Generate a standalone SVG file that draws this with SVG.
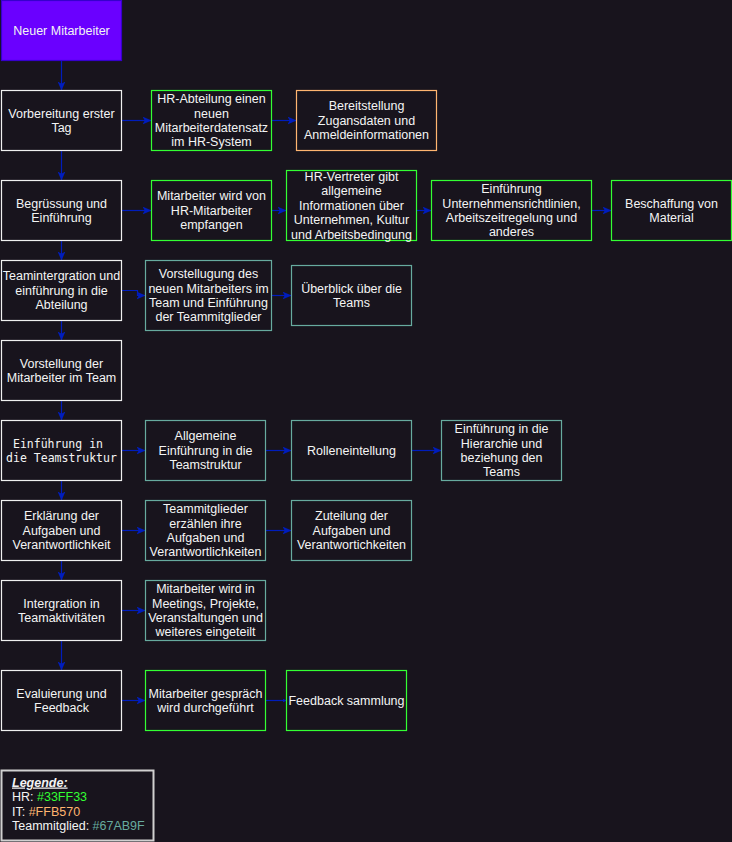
<svg xmlns="http://www.w3.org/2000/svg" width="732" height="842" viewBox="0 0 732 842">
<style>
.bg{fill:#18141D}
rect.n{fill:#18141D;stroke:#F0F0F0;stroke-width:1.2}
rect.hr{stroke:#33FF33}
rect.it{stroke:#FFB570}
rect.tm{stroke:#67AB9F}
text{font-family:"Liberation Sans",Arial,sans-serif;font-size:12.5px;fill:#F4F4F4;text-anchor:middle}
text.mono{font-family:"DejaVu Sans Mono","Liberation Mono",monospace;font-size:11.5px}
.e{fill:none;stroke:#001DBC;stroke-width:1.2}
</style>
<defs>
<marker id="ah" viewBox="0 0 8 7" refX="8" refY="3.5" markerWidth="9" markerHeight="8" markerUnits="userSpaceOnUse" orient="auto">
<path d="M0,0 L8,3.5 L0,7 L2,3.5 Z" fill="#001DBC"/>
</marker>
<marker id="ahs" viewBox="0 0 4 4" refX="4" refY="2" markerWidth="4" markerHeight="4" markerUnits="userSpaceOnUse" orient="auto">
<path d="M0,0 L4,2 L0,4 Z" fill="#001DBC"/>
</marker>
</defs>
<rect class="bg" x="0" y="0" width="732" height="842"/>

<g id="connectors">
<path class="e" marker-end="url(#ah)" d="M61.5,60.5 V90.5"/>
<path class="e" marker-end="url(#ah)" d="M61.5,150.5 V180.5"/>
<path class="e" marker-end="url(#ah)" d="M61.5,240.5 V260.5"/>
<path class="e" marker-end="url(#ah)" d="M61.5,320.5 V340.5"/>
<path class="e" marker-end="url(#ah)" d="M61.5,400.5 V420.5"/>
<path class="e" marker-end="url(#ah)" d="M61.5,480.5 V500.5"/>
<path class="e" marker-end="url(#ah)" d="M61.5,560.5 V580.5"/>
<path class="e" marker-end="url(#ah)" d="M61.5,640.5 V670.5"/>
<path class="e" marker-end="url(#ah)" d="M121.5,120.5 H151.5"/>
<path class="e" marker-end="url(#ah)" d="M271.5,120.5 H296.5"/>
<path class="e" marker-end="url(#ah)" d="M121.5,210.5 H151.5"/>
<path class="e" marker-end="url(#ah)" d="M271.5,210.5 H286.5"/>
<path class="e" marker-end="url(#ah)" d="M416.5,210.5 H431.5"/>
<path class="e" marker-end="url(#ah)" d="M591.5,210.5 H611.5"/>
<path class="e" marker-end="url(#ah)" d="M121.5,290.5 H137.5 V295.5 H145.5"/>
<path class="e" marker-end="url(#ah)" d="M271.5,295.5 H291.5"/>
<path class="e" marker-end="url(#ah)" d="M121.5,450.5 H145.5"/>
<path class="e" marker-end="url(#ah)" d="M265.5,450.5 H291.5"/>
<path class="e" marker-end="url(#ah)" d="M411.5,450.5 H441.5"/>
<path class="e" marker-end="url(#ah)" d="M121.5,530.5 H145.5"/>
<path class="e" marker-end="url(#ah)" d="M265.5,530.5 H291.5"/>
<path class="e" marker-end="url(#ah)" d="M121.5,610.5 H145.5"/>
<path class="e" marker-end="url(#ah)" d="M121.5,700.5 H145.5"/>
<path class="e" marker-end="url(#ahs)" d="M265.5,700.5 H286.5"/>
</g>

<g id="n1"><rect x="1.5" y="0.5" width="120" height="60" fill="#6A00FF" stroke="#3700CC" stroke-width="1.2"/>
<text x="61.5" y="34.8">Neuer Mitarbeiter</text></g>

<g id="n2"><rect class="n" x="1.5" y="90.5" width="120" height="60"/>
<text x="61.5"><tspan x="61.5" y="117.6">Vorbereitung erster</tspan><tspan x="61.5" y="132">Tag</tspan></text></g>

<g id="n3"><rect class="n hr" x="151.5" y="90.5" width="120" height="60"/>
<text><tspan x="211.5" y="103.2">HR-Abteilung einen</tspan><tspan x="211.5" y="117.6">neuen</tspan><tspan x="211.5" y="132">Mitarbeiterdatensatz</tspan><tspan x="211.5" y="146.4">im HR-System</tspan></text></g>

<g id="n4"><rect class="n it" x="296.5" y="90.5" width="140" height="60"/>
<text><tspan x="366.5" y="110.4">Bereitstellung</tspan><tspan x="366.5" y="124.8">Zugansdaten und</tspan><tspan x="366.5" y="139.2">Anmeldeinformationen</tspan></text></g>

<g id="n5"><rect class="n" x="1.5" y="180.5" width="120" height="60"/>
<text><tspan x="61.5" y="207.6">Begrüssung und</tspan><tspan x="61.5" y="222">Einführung</tspan></text></g>

<g id="n6"><rect class="n hr" x="151.5" y="180.5" width="120" height="60"/>
<text><tspan x="211.5" y="200.4">Mitarbeiter wird von</tspan><tspan x="211.5" y="214.8">HR-Mitarbeiter</tspan><tspan x="211.5" y="229.2">empfangen</tspan></text></g>

<g id="n7"><rect class="n hr" x="286.5" y="170.5" width="130" height="70"/>
<text><tspan x="351.5" y="181">HR-Vertreter gibt</tspan><tspan x="351.5" y="195.4">allgemeine</tspan><tspan x="351.5" y="209.8">Informationen über</tspan><tspan x="351.5" y="224.2">Unternehmen, Kultur</tspan><tspan x="351.5" y="238.6">und Arbeitsbedingung</tspan></text></g>

<g id="n8"><rect class="n hr" x="431.5" y="180.5" width="160" height="60"/>
<text><tspan x="511.5" y="193.2">Einführung</tspan><tspan x="511.5" y="207.6">Unternehmensrichtlinien,</tspan><tspan x="511.5" y="222">Arbeitszeitregelung und</tspan><tspan x="511.5" y="236.4">anderes</tspan></text></g>

<g id="n9"><rect class="n hr" x="611.5" y="180.5" width="120" height="60"/>
<text><tspan x="671.5" y="207.6">Beschaffung von</tspan><tspan x="671.5" y="222">Material</tspan></text></g>

<g id="n10"><rect class="n" x="1.5" y="260.5" width="120" height="60"/>
<text><tspan x="61.5" y="280.4">Teamintergration und</tspan><tspan x="61.5" y="294.8">einführung in die</tspan><tspan x="61.5" y="309.2">Abteilung</tspan></text></g>

<g id="n11"><rect class="n tm" x="145.5" y="260.5" width="126" height="70"/>
<text><tspan x="208.5" y="278.2">Vorstellugung des</tspan><tspan x="208.5" y="292.6">neuen Mitarbeiters im</tspan><tspan x="208.5" y="307">Team und Einführung</tspan><tspan x="208.5" y="321.4">der Teammitglieder</tspan></text></g>

<g id="n12"><rect class="n tm" x="291.5" y="265.5" width="120" height="60"/>
<text><tspan x="351.5" y="292.6">Überblick über die</tspan><tspan x="351.5" y="307">Teams</tspan></text></g>

<g id="n13"><rect class="n" x="1.5" y="340.5" width="120" height="60"/>
<text><tspan x="61.5" y="367.6">Vorstellung der</tspan><tspan x="61.5" y="382">Mitarbeiter im Team</tspan></text></g>

<g id="n14"><rect class="n" x="1.5" y="420.5" width="120" height="60"/>
<text class="mono"><tspan x="58" y="447.6">Einführung in</tspan><tspan x="61.5" y="462">die Teamstruktur</tspan></text></g>

<g id="n15"><rect class="n tm" x="145.5" y="420.5" width="120" height="60"/>
<text><tspan x="205.5" y="440.4">Allgemeine</tspan><tspan x="205.5" y="454.8">Einführung in die</tspan><tspan x="205.5" y="469.2">Teamstruktur</tspan></text></g>

<g id="n16"><rect class="n tm" x="291.5" y="420.5" width="120" height="60"/>
<text x="351.5" y="454.8">Rolleneintellung</text></g>

<g id="n17"><rect class="n tm" x="441.5" y="420.5" width="120" height="60"/>
<text><tspan x="501.5" y="433.2">Einführung in die</tspan><tspan x="501.5" y="447.6">Hierarchie und</tspan><tspan x="501.5" y="462">beziehung den</tspan><tspan x="501.5" y="476.4">Teams</tspan></text></g>

<g id="n18"><rect class="n" x="1.5" y="500.5" width="120" height="60"/>
<text><tspan x="61.5" y="520.4">Erklärung der</tspan><tspan x="61.5" y="534.8">Aufgaben und</tspan><tspan x="61.5" y="549.2">Verantwortlichkeit</tspan></text></g>

<g id="n19"><rect class="n tm" x="145.5" y="500.5" width="120" height="60"/>
<text><tspan x="205.5" y="513.2">Teammitglieder</tspan><tspan x="205.5" y="527.6">erzählen ihre</tspan><tspan x="205.5" y="542">Aufgaben und</tspan><tspan x="205.5" y="556.4">Verantwortlichkeiten</tspan></text></g>

<g id="n20"><rect class="n tm" x="291.5" y="500.5" width="120" height="60"/>
<text><tspan x="351.5" y="520.4">Zuteilung der</tspan><tspan x="351.5" y="534.8">Aufgaben und</tspan><tspan x="351.5" y="549.2">Verantwortichkeiten</tspan></text></g>

<g id="n21"><rect class="n" x="1.5" y="580.5" width="120" height="60"/>
<text><tspan x="61.5" y="607.6">Intergration in</tspan><tspan x="61.5" y="622">Teamaktivitäten</tspan></text></g>

<g id="n22"><rect class="n tm" x="145.5" y="580.5" width="120" height="60"/>
<text><tspan x="205.5" y="593.2">Mitarbeiter wird in</tspan><tspan x="205.5" y="607.6">Meetings, Projekte,</tspan><tspan x="205.5" y="622">Veranstaltungen und</tspan><tspan x="205.5" y="636.4">weiteres eingeteilt</tspan></text></g>

<g id="n23"><rect class="n" x="1.5" y="670.5" width="120" height="60"/>
<text><tspan x="61.5" y="697.6">Evaluierung und</tspan><tspan x="61.5" y="712">Feedback</tspan></text></g>

<g id="n24"><rect class="n hr" x="145.5" y="670.5" width="120" height="60"/>
<text><tspan x="205.5" y="697.6">Mitarbeiter gespräch</tspan><tspan x="205.5" y="712">wird durchgeführt</tspan></text></g>

<g id="n25"><rect class="n hr" x="286.5" y="670.5" width="120" height="60"/>
<text x="346.5" y="704.8">Feedback sammlung</text></g>

<g id="legend"><rect x="1.5" y="770.5" width="152" height="70" fill="#18141D" stroke="#D0D0D0" stroke-width="2"/>
<text x="12" y="786.5" style="text-anchor:start;font-weight:bold;font-style:italic;text-decoration:underline">Legende:</text>
<text x="12" y="801" style="text-anchor:start">HR: <tspan fill="#33FF33">#33FF33</tspan></text>
<text x="12" y="815.5" style="text-anchor:start">IT: <tspan fill="#FFB570">#FFB570</tspan></text>
<text x="12" y="830" style="text-anchor:start">Teammitglied: <tspan fill="#67AB9F">#67AB9F</tspan></text>
</g>
</svg>
